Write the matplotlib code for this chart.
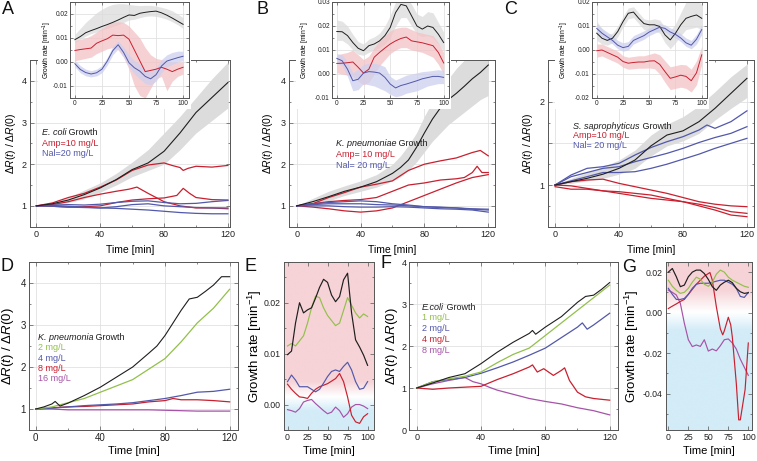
import numpy as np
import matplotlib.pyplot as plt
from matplotlib.patches import Rectangle
from matplotlib.ticker import MultipleLocator, FuncFormatter, FormatStrFormatter

plt.rcParams['font.family'] = ['Liberation Sans', 'DejaVu Sans']
plt.rcParams['mathtext.fontset'] = 'custom'
plt.rcParams['mathtext.rm'] = 'Liberation Sans'
plt.rcParams['mathtext.it'] = 'Liberation Sans:italic'
plt.rcParams['axes.unicode_minus'] = False

BLACK = '#1e1e1e'
RED = '#c8202f'
BLUE = '#5258aa'
GREEN = '#92c04a'
MAGENTA = '#a653a8'
GREY_BAND = '#dcdcdc'
RED_BAND = '#f4c2c6'
BLUE_BAND = '#cdd0ee'
SPINE = '#555555'
GRID = '#dcdcdc'

# ---------------- data ----------------
t10 = [0, 10, 20, 30, 40, 50, 60, 70, 80, 90, 100, 110, 120]
t5 = [0, 5, 10, 15, 20, 25, 30, 35, 40, 45, 50, 55, 60, 65, 70, 75, 80, 85, 90, 95, 100]

# A: E. coli
a_black = [1.00, 1.05, 1.14, 1.27, 1.43, 1.63, 1.87, 2.03, 2.31, 2.75, 3.24, 3.60, 3.96]
a_band_lo = [1.00, 1.03, 1.08, 1.17, 1.33, 1.50, 1.70, 1.85, 2.00, 2.35, 2.75, 3.05, 3.35]
a_band_hi = [1.00, 1.07, 1.20, 1.38, 1.55, 1.78, 2.05, 2.35, 2.75, 3.15, 3.60, 4.05, 4.45]
a_red1_t = [0, 10, 20, 30, 40, 50, 60, 70, 80, 85, 90, 92, 95, 100, 110, 120]
a_red1 = [1.00, 1.07, 1.20, 1.30, 1.45, 1.62, 1.85, 1.98, 2.03, 1.97, 1.92, 1.85, 1.90, 1.95, 1.93, 1.97]
a_red2_t = [0, 10, 20, 30, 40, 50, 58, 63, 70, 80, 90, 100, 110, 120]
a_red2 = [1.00, 1.03, 1.10, 1.20, 1.28, 1.35, 1.40, 1.45, 1.30, 1.10, 1.00, 0.95, 0.95, 0.93]
a_red3_t = [0, 10, 20, 30, 40, 50, 60, 70, 80, 88, 92, 96, 100, 110, 120]
a_red3 = [1.00, 0.99, 0.97, 0.98, 1.00, 1.08, 1.14, 1.17, 1.19, 1.25, 1.42, 1.30, 1.20, 1.15, 1.14]
a_blue1 = [1.00, 1.02, 1.03, 1.02, 1.04, 1.08, 1.11, 1.12, 1.08, 1.05, 1.06, 1.10, 1.13]
a_blue2 = [1.00, 1.01, 0.99, 0.97, 0.95, 0.98, 1.03, 1.05, 1.00, 0.98, 0.96, 0.95, 0.95]
a_blue3 = [1.00, 0.99, 0.97, 0.96, 0.95, 0.94, 0.92, 0.90, 0.87, 0.84, 0.82, 0.81, 0.81]

ia_black = [0.0093, 0.0106, 0.0122, 0.0131, 0.0139, 0.0148, 0.0156, 0.0165, 0.0175, 0.0186, 0.0196,
            0.0194, 0.0203, 0.0207, 0.0210, 0.0212, 0.0205, 0.0195, 0.0183, 0.0170, 0.0157]
ia_black_lo = [0.0080, 0.0095, 0.0108, 0.0118, 0.0125, 0.0133, 0.0140, 0.0148, 0.0155, 0.0165, 0.0175,
               0.0178, 0.0185, 0.0190, 0.0192, 0.0190, 0.0185, 0.0178, 0.0168, 0.0155, 0.0140]
ia_black_hi = [0.0115, 0.0140, 0.0165, 0.0185, 0.0205, 0.0220, 0.0232, 0.0240, 0.0243, 0.0243, 0.0240,
               0.0237, 0.0235, 0.0236, 0.0236, 0.0233, 0.0228, 0.0222, 0.0213, 0.0200, 0.0185]
ia_red = [0.0048, 0.0052, 0.0055, 0.0058, 0.0078, 0.0088, 0.0097, 0.0112, 0.0110, 0.0112, 0.0095,
          0.0050, 0.0005, -0.0040, -0.0035, -0.0030, -0.0022, -0.0030, -0.0040, -0.0030, -0.0022]
ia_red_lo = [0.0005, 0.0010, 0.0015, 0.0020, 0.0035, 0.0045, 0.0055, 0.0060, 0.0050, 0.0020, -0.0030,
             -0.0100, -0.0140, -0.0150, -0.0110, -0.0070, -0.0060, -0.0120, -0.0080, -0.0060, -0.0050]
ia_red_hi = [0.0090, 0.0095, 0.0100, 0.0110, 0.0125, 0.0140, 0.0155, 0.0165, 0.0168, 0.0165, 0.0150,
             0.0125, 0.0100, 0.0060, 0.0030, 0.0015, 0.0010, 0.0005, 0.0000, 0.0000, 0.0000]
ia_blue = [-0.0007, -0.0031, -0.0044, -0.0050, -0.0045, -0.0030, 0.0004, 0.0047, 0.0072, 0.0040, -0.0003,
           -0.0024, -0.0038, -0.0060, -0.0070, -0.0053, -0.0017, 0.0004, 0.0011, 0.0018, 0.0024]
ia_blue_lo = [-0.0020, -0.0045, -0.0058, -0.0062, -0.0058, -0.0045, -0.0012, 0.0030, 0.0055, 0.0020, -0.0020,
              -0.0050, -0.0070, -0.0090, -0.0095, -0.0080, -0.0045, -0.0020, -0.0010, 0.0000, 0.0005]
ia_blue_hi = [0.0008, -0.0015, -0.0030, -0.0036, -0.0030, -0.0015, 0.0020, 0.0065, 0.0088, 0.0062, 0.0030,
              0.0005, -0.0008, -0.0030, -0.0040, -0.0025, 0.0010, 0.0030, 0.0040, 0.0045, 0.0045]

# B: K. pneumoniae
b_black_t = [0, 10, 20, 30, 40, 50, 60, 65, 70, 75, 80, 85, 90, 95, 100, 105, 110, 115, 120]
b_black = [1.00, 1.10, 1.22, 1.35, 1.45, 1.58, 1.78, 1.92, 2.10, 2.40, 2.75, 3.08, 3.35, 3.55, 3.70, 3.87, 4.05, 4.20, 4.38]
b_band_lo = [1.00, 1.03, 1.12, 1.25, 1.35, 1.45, 1.60, 1.70, 1.85, 2.05, 2.30, 2.55, 2.75, 2.95, 3.10, 3.25, 3.40, 3.55, 3.65]
b_band_hi = [1.00, 1.18, 1.35, 1.48, 1.60, 1.75, 2.00, 2.20, 2.45, 2.75, 3.15, 3.50, 3.80, 4.05, 4.30, 4.50, 4.70, 4.85, 5.00]
b_red1_t = [0, 10, 20, 30, 40, 50, 60, 70, 80, 90, 100, 110, 115, 120]
b_red1 = [1.00, 1.05, 1.20, 1.32, 1.45, 1.52, 1.60, 1.85, 2.00, 2.08, 2.15, 2.28, 2.33, 2.20]
b_red2_t = [0, 10, 20, 30, 40, 50, 60, 70, 80, 90, 100, 105, 110, 113, 116, 120]
b_red2 = [1.00, 1.05, 1.10, 1.13, 1.15, 1.20, 1.35, 1.50, 1.55, 1.62, 1.65, 1.68, 1.80, 1.95, 1.80, 1.80]
b_red3 = [1.00, 0.97, 0.93, 0.88, 0.85, 0.88, 0.95, 1.10, 1.25, 1.40, 1.55, 1.68, 1.75]
b_blue1 = [1.00, 1.05, 1.08, 1.10, 1.12, 1.10, 1.05, 1.02, 0.98, 0.97, 0.95, 0.93, 0.92]
b_blue2 = [1.00, 1.03, 1.05, 1.05, 1.05, 1.03, 1.02, 1.00, 0.98, 0.96, 0.95, 0.92, 0.90]
b_blue3 = [1.00, 1.00, 1.00, 0.98, 0.97, 0.97, 0.98, 0.97, 0.95, 0.93, 0.92, 0.90, 0.85]

ib_black = [0.0177, 0.0176, 0.0160, 0.0131, 0.0107, 0.0097, 0.0118, 0.0125, 0.0138, 0.0160, 0.0194,
            0.0256, 0.0290, 0.0284, 0.0242, 0.0200, 0.0187, 0.0200, 0.0194, 0.0166, 0.0131]
ib_black_lo = [0.0140, 0.0140, 0.0125, 0.0100, 0.0082, 0.0078, 0.0090, 0.0100, 0.0110, 0.0125, 0.0150,
               0.0200, 0.0235, 0.0235, 0.0200, 0.0165, 0.0155, 0.0160, 0.0150, 0.0125, 0.0095]
ib_black_hi = [0.0225, 0.0220, 0.0200, 0.0165, 0.0135, 0.0125, 0.0145, 0.0155, 0.0170, 0.0200, 0.0245,
               0.0300, 0.0320, 0.0320, 0.0290, 0.0250, 0.0240, 0.0260, 0.0255, 0.0215, 0.0175]
ib_red = [0.0044, 0.0045, 0.0047, 0.0050, 0.0028, 0.0004, 0.0020, 0.0070, 0.0090, 0.0108, 0.0125,
          0.0138, 0.0148, 0.0154, 0.0138, 0.0134, 0.0130, 0.0124, 0.0118, 0.0090, 0.0046]
ib_red_lo = [0.0005, 0.0000, -0.0005, -0.0010, -0.0030, -0.0045, -0.0035, 0.0000, 0.0035, 0.0060, 0.0085,
             0.0100, 0.0110, 0.0110, 0.0100, 0.0095, 0.0090, 0.0080, 0.0070, 0.0040, 0.0000]
ib_red_hi = [0.0080, 0.0085, 0.0090, 0.0100, 0.0080, 0.0060, 0.0075, 0.0110, 0.0140, 0.0160, 0.0180,
             0.0190, 0.0195, 0.0195, 0.0185, 0.0175, 0.0170, 0.0165, 0.0160, 0.0130, 0.0090]
ib_blue = [0.0065, 0.0055, 0.0020, -0.0028, -0.0022, 0.0004, 0.0010, 0.0008, 0.0004, -0.0014, -0.0042,
           -0.0058, -0.0048, -0.0042, -0.0035, -0.0028, -0.0020, -0.0015, -0.0010, -0.0010, -0.0014]
ib_blue_lo = [0.0045, 0.0035, -0.0010, -0.0070, -0.0065, -0.0040, -0.0045, -0.0050, -0.0060, -0.0070, -0.0085,
              -0.0095, -0.0090, -0.0080, -0.0075, -0.0070, -0.0060, -0.0050, -0.0045, -0.0040, -0.0040]
ib_blue_hi = [0.0085, 0.0080, 0.0050, 0.0005, 0.0020, 0.0040, 0.0045, 0.0045, 0.0040, 0.0030, -0.0010,
              -0.0025, -0.0015, -0.0005, 0.0000, 0.0005, 0.0010, 0.0012, 0.0015, 0.0018, 0.0015]

# C: S. saprophyticus
c_black = [1.00, 1.04, 1.08, 1.13, 1.20, 1.30, 1.47, 1.60, 1.65, 1.76, 1.92, 2.10, 2.28]
c_band_lo = [1.00, 1.02, 1.05, 1.08, 1.13, 1.20, 1.35, 1.47, 1.53, 1.62, 1.78, 1.92, 2.05]
c_band_hi = [1.00, 1.08, 1.15, 1.22, 1.30, 1.42, 1.60, 1.73, 1.82, 1.95, 2.12, 2.30, 2.45]
c_blue1_t = [0, 10, 20, 30, 40, 50, 60, 70, 80, 90, 95, 100, 110, 120]
c_blue1 = [1.00, 1.12, 1.20, 1.22, 1.26, 1.36, 1.45, 1.52, 1.58, 1.66, 1.72, 1.68, 1.76, 1.89]
c_blue2 = [1.00, 1.10, 1.15, 1.20, 1.22, 1.28, 1.33, 1.38, 1.44, 1.51, 1.57, 1.62, 1.70]
c_blue3 = [1.00, 1.05, 1.10, 1.15, 1.15, 1.16, 1.20, 1.25, 1.31, 1.37, 1.44, 1.50, 1.56]
c_red1 = [1.00, 1.04, 1.06, 1.07, 1.02, 0.98, 0.94, 0.90, 0.85, 0.80, 0.77, 0.75, 0.74]
c_red2 = [1.00, 0.99, 0.96, 0.93, 0.90, 0.87, 0.84, 0.82, 0.80, 0.77, 0.73, 0.68, 0.66]
c_red3 = [0.98, 0.95, 0.95, 0.93, 0.92, 0.90, 0.88, 0.84, 0.80, 0.75, 0.70, 0.64, 0.62]

ic_black = [0.0070, 0.0049, 0.0040, 0.0049, 0.0077, 0.0118, 0.0153, 0.0158, 0.0132, 0.0110, 0.0105,
            0.0105, 0.0098, 0.0063, 0.0042, 0.0070, 0.0105, 0.0132, 0.0140, 0.0146, 0.0132]
ic_black_lo = [0.0040, 0.0025, 0.0020, 0.0030, 0.0055, 0.0095, 0.0130, 0.0135, 0.0110, 0.0085, 0.0080,
               0.0080, 0.0070, 0.0030, 0.0005, 0.0030, 0.0060, 0.0085, 0.0090, 0.0095, 0.0085]
ic_black_hi = [0.0120, 0.0090, 0.0065, 0.0070, 0.0100, 0.0140, 0.0175, 0.0180, 0.0155, 0.0130, 0.0125,
               0.0130, 0.0125, 0.0095, 0.0080, 0.0110, 0.0155, 0.0200, 0.0210, 0.0210, 0.0190]
ic_blue = [0.0090, 0.0070, 0.0055, 0.0040, 0.0020, 0.0010, 0.0015, 0.0040, 0.0050, 0.0060, 0.0075,
           0.0085, 0.0095, 0.0090, 0.0075, 0.0065, 0.0050, 0.0030, 0.0020, 0.0045, 0.0085]
ic_blue_lo = [0.0072, 0.0055, 0.0040, 0.0025, 0.0005, -0.0005, 0.0000, 0.0025, 0.0035, 0.0045, 0.0060,
              0.0070, 0.0080, 0.0075, 0.0060, 0.0050, 0.0035, 0.0015, 0.0005, 0.0025, 0.0065]
ic_blue_hi = [0.0110, 0.0090, 0.0075, 0.0060, 0.0040, 0.0030, 0.0035, 0.0060, 0.0070, 0.0080, 0.0092,
              0.0102, 0.0110, 0.0105, 0.0092, 0.0082, 0.0068, 0.0050, 0.0040, 0.0065, 0.0105]
ic_red = [-0.0003, 0.0000, -0.0010, -0.0020, -0.0030, -0.0048, -0.0055, -0.0052, -0.0050, -0.0050, -0.0046,
          -0.0045, -0.0060, -0.0090, -0.0118, -0.0112, -0.0105, -0.0110, -0.0128, -0.0095, -0.0020]
ic_red_lo = [-0.0030, -0.0025, -0.0035, -0.0045, -0.0055, -0.0072, -0.0080, -0.0078, -0.0076, -0.0076, -0.0075,
             -0.0078, -0.0100, -0.0135, -0.0165, -0.0160, -0.0155, -0.0160, -0.0175, -0.0145, -0.0060]
ic_red_hi = [0.0025, 0.0025, 0.0015, 0.0005, -0.0005, -0.0024, -0.0030, -0.0027, -0.0024, -0.0024, -0.0018,
             -0.0012, -0.0020, -0.0045, -0.0070, -0.0065, -0.0060, -0.0062, -0.0080, -0.0045, 0.0015]

# D: K. pneumonia dose series
d_black_t = [0, 5, 10, 12, 15, 20, 30, 40, 50, 60, 70, 75, 80, 85, 90, 95, 100, 105, 110, 115, 120]
d_black = [1.00, 1.05, 1.12, 1.18, 1.07, 1.14, 1.32, 1.52, 1.76, 2.00, 2.33, 2.50, 2.75, 3.05, 3.35,
           3.62, 3.66, 3.80, 3.95, 4.15, 4.15]
d_green = [1.00, 1.05, 1.15, 1.25, 1.40, 1.55, 1.70, 1.95, 2.20, 2.60, 3.05, 3.40, 3.85]
d_blue = [1.00, 1.02, 1.05, 1.08, 1.10, 1.12, 1.15, 1.20, 1.25, 1.32, 1.40, 1.42, 1.47]
d_red_t = [0, 10, 20, 30, 40, 50, 60, 70, 80, 85, 90, 100, 110, 120]
d_red = [1.00, 1.03, 1.05, 1.06, 1.08, 1.10, 1.12, 1.17, 1.20, 1.25, 1.22, 1.22, 1.20, 1.17]
d_mag = [1.00, 1.00, 0.98, 0.98, 0.98, 0.98, 0.98, 0.98, 0.97, 0.96, 0.95, 0.95, 0.95]

# E: growth rates for D
e_black = [0.0098, 0.0105, 0.0160, 0.0200, 0.0180, 0.0186, 0.0190, 0.0209, 0.0230, 0.0246, 0.0240,
           0.0215, 0.0202, 0.0212, 0.0245, 0.0258, 0.0180, 0.0127, 0.0113, 0.0097, 0.0077]
e_green = [0.0115, 0.0120, 0.0115, 0.0125, 0.0135, 0.0160, 0.0190, 0.0213, 0.0210, 0.0190, 0.0175,
           0.0165, 0.0155, 0.0160, 0.0185, 0.0210, 0.0195, 0.0180, 0.0170, 0.0178, 0.0173]
e_blue = [0.0045, 0.0058, 0.0048, 0.0035, 0.0035, 0.0035, 0.0030, 0.0025, 0.0030, 0.0042, 0.0055,
          0.0065, 0.0068, 0.0065, 0.0075, 0.0083, 0.0068, 0.0045, 0.0030, 0.0032, 0.0045]
e_red = [0.0040, 0.0030, 0.0022, 0.0015, 0.0014, 0.0012, 0.0022, 0.0030, 0.0035, 0.0038, 0.0041,
         0.0046, 0.0051, 0.0061, 0.0045, 0.0015, -0.0021, -0.0034, -0.0037, -0.0024, -0.0018]
e_mag = [-0.0010, -0.0012, -0.0015, -0.0008, 0.0005, 0.0008, 0.0010, 0.0002, -0.0005, -0.0012, -0.0018,
         -0.0015, -0.0005, -0.0012, -0.0025, -0.0018, -0.0005, 0.0000, 0.0000, -0.0003, -0.0008]

# F: E. coli dose series
f_black_t = [0, 10, 20, 30, 40, 50, 60, 70, 72, 74, 80, 90, 100, 105, 110, 115, 120]
f_black = [1.00, 1.12, 1.25, 1.34, 1.58, 1.85, 2.09, 2.30, 2.37, 2.28, 2.45, 2.70, 3.04, 3.18, 3.21, 3.35, 3.51]
f_green = [1.00, 1.15, 1.22, 1.28, 1.38, 1.60, 1.80, 1.95, 2.25, 2.55, 2.85, 3.15, 3.45]
f_blue_t = [0, 10, 20, 30, 40, 50, 60, 70, 80, 90, 100, 103, 106, 110, 120]
f_blue = [1.00, 1.15, 1.20, 1.25, 1.35, 1.48, 1.62, 1.78, 1.95, 2.20, 2.45, 2.55, 2.40, 2.50, 2.78]
f_red_t = [0, 10, 20, 30, 40, 50, 60, 70, 72, 75, 79, 85, 90, 92, 95, 100, 105, 110, 120]
f_red = [1.00, 0.97, 1.00, 1.02, 1.04, 1.20, 1.34, 1.50, 1.55, 1.38, 1.46, 1.30, 1.42, 1.48, 1.18, 0.90, 0.79, 0.75, 0.71]
f_mag_t = [0, 10, 20, 30, 35, 40, 45, 50, 60, 70, 80, 90, 100, 110, 120]
f_mag = [1.00, 1.10, 1.18, 1.25, 1.15, 1.10, 1.02, 0.95, 0.85, 0.75, 0.68, 0.62, 0.53, 0.46, 0.36]

# G: growth rates for F
g_black = [0.0200, 0.0218, 0.0177, 0.0128, 0.0136, 0.0177, 0.0200, 0.0210, 0.0210, 0.0193, 0.0164,
           0.0128, 0.0110, 0.0136, 0.0150, 0.0160, 0.0148, 0.0120, 0.0103, 0.0095, 0.0098]
g_green = [0.0160, 0.0130, 0.0110, 0.0095, 0.0100, 0.0120, 0.0150, 0.0175, 0.0165, 0.0140, 0.0130,
           0.0150, 0.0190, 0.0210, 0.0200, 0.0175, 0.0160, 0.0150, 0.0140, 0.0130, 0.0125]
g_blue = [0.0120, 0.0090, 0.0065, 0.0065, 0.0070, 0.0090, 0.0120, 0.0140, 0.0145, 0.0145, 0.0145,
          0.0150, 0.0155, 0.0160, 0.0160, 0.0150, 0.0140, 0.0120, 0.0080, 0.0075, 0.0100]
g_red_t = [0, 5, 10, 15, 20, 25, 30, 35, 40, 45, 50, 52, 55, 60, 65, 68, 70, 75, 78, 80, 85, 88, 90, 96, 100]
g_red = [0.0020, 0.0032, 0.0043, 0.0055, 0.0065, 0.0090, 0.0115, 0.0140, 0.0160, 0.0180, 0.0193, 0.0198,
         0.0160, 0.0030, -0.0080, -0.0110, -0.0090, -0.0023, -0.0060, -0.0120, -0.0350, -0.0530, -0.0530,
         -0.0380, -0.0150]
g_mag = [0.0111, 0.0100, 0.0087, 0.0046, -0.0052, -0.0134, -0.0168, -0.0160, -0.0167, -0.0134, -0.0190,
         -0.0180, -0.0189, -0.0164, -0.0134, -0.0130, -0.0150, -0.0180, -0.0230, -0.0270, -0.0310]

# ---------------- layout helpers ----------------
W, H = 757, 461


def box(x0, y0, x1, y1):
    return [x0 / W, 1 - y1 / H, (x1 - x0) / W, (y1 - y0) / H]


def style(ax, xmaj, ymaj, xmin=None, ymin=None, fs=6.5, grid=True, tl=3):
    ax.xaxis.set_major_locator(MultipleLocator(xmaj))
    ax.yaxis.set_major_locator(MultipleLocator(ymaj))
    if xmin:
        ax.xaxis.set_minor_locator(MultipleLocator(xmin))
    if ymin:
        ax.yaxis.set_minor_locator(MultipleLocator(ymin))
    ax.tick_params(which='both', direction='in', top=True, right=True, color=SPINE,
                   labelcolor='#222222', labelsize=fs, width=0.5, pad=2.5)
    ax.tick_params(which='major', length=tl)
    ax.tick_params(which='minor', length=tl * 0.55)
    for s in ax.spines.values():
        s.set_color(SPINE)
        s.set_linewidth(0.7)
    if grid:
        ax.grid(True, which='major', color=GRID, lw=0.5)
    ax.set_axisbelow(True)


def labels(ax, x0, x1, y0, y1, xlab_y, ylab_x, ylab, fs_x, fs_y):
    ax.set_xlabel('Time [min]', fontsize=fs_x, va='center')
    ax.xaxis.set_label_coords(0.5, (y1 - xlab_y) / (y1 - y0))
    ax.set_ylabel(ylab, fontsize=fs_y, va='center')
    ax.yaxis.set_label_coords((ylab_x - x0) / (x1 - x0), 0.5)


def legend_text(ax, x, y, step, italic, rest, entries, fs):
    ty = 1 - y / H
    t1 = ax.text(x / W, ty, italic, transform=fig.transFigure, fontsize=fs, style='italic',
                 color=BLACK, va='center', ha='left', zorder=6)
    ax.annotate(rest, xy=(1, 0), xycoords=t1, fontsize=fs, color=BLACK, va='bottom', ha='left', zorder=6)
    for i, (txt, col) in enumerate(entries):
        ax.text(x / W, 1 - (y + step * (i + 1)) / H, txt, transform=fig.transFigure, fontsize=fs,
                color=col, va='center', ha='left', zorder=6)


def letter(x, y, s):
    fig.text(x / W, 1 - y / H, s, fontsize=13, va='top', ha='left', color='#111111')


def gradient(ax, xlim, ylim, ys, cols):
    yy = np.linspace(ylim[0], ylim[1], 500)
    cols = np.array(cols, dtype=float) / 255.0
    img = np.stack([np.interp(yy, ys, cols[:, k]) for k in range(3)], axis=-1)[:, None, :]
    ax.imshow(img, extent=[xlim[0], xlim[1], ylim[0], ylim[1]], origin='lower', aspect='auto',
              interpolation='bilinear', zorder=0)


YLAB = r'$\Delta R(t)\ /\ \Delta R(0)$'
GRLAB = r'Growth rate [min$^{-1}$]'
PINK = (246, 211, 215)
SKY = (211, 236, 247)
WHITE = (255, 255, 255)

fig = plt.figure(figsize=(7.57, 4.61), dpi=100)

# ---------------- top row main panels ----------------
top = [
    (30, 229.5, (-4, 121), (0.5, 4.5), 11,
     (t10, a_black, a_band_lo, a_band_hi),
     [(a_red1_t, a_red1), (a_red2_t, a_red2), (a_red3_t, a_red3)],
     [(t10, a_blue1), (t10, a_blue2), (t10, a_blue3)]),
    (289.3, 495, (-4.6, 124.2), (0.5, 4.5), 268,
     (b_black_t, b_black, b_band_lo, b_band_hi),
     [(b_red1_t, b_red1), (b_red2_t, b_red2), (t10, b_red3)],
     [(t10, b_blue1), (t10, b_blue2), (t10, b_blue3)]),
    (548, 754.3, (-4.4, 124.6), (0.5, 2.5), 528,
     (t10, c_black, c_band_lo, c_band_hi),
     [(t10, c_red1), (t10, c_red2), (t10, c_red3)],
     [(c_blue1_t, c_blue1), (t10, c_blue2), (t10, c_blue3)]),
]
mains = []
for i, (x0, x1, xl, yl, ylx, blk, reds, blues) in enumerate(top):
    ax = fig.add_axes(box(x0, 60, x1, 226.7))
    ax.set_zorder(1)
    ax.fill_between(blk[0], blk[2], blk[3], color=GREY_BAND, lw=0, zorder=2)
    for t, v in reds:
        ax.plot(t, v, color=RED, lw=0.9, zorder=3)
    for t, v in blues:
        ax.plot(t, v, color=BLUE, lw=0.9, zorder=3)
    ax.plot(blk[0], blk[1], color=BLACK, lw=0.8, zorder=4)
    ax.set_xlim(xl)
    ax.set_ylim(yl)
    if i == 2:
        style(ax, 40, 0.5, 20, 0.25)
        ax.yaxis.set_major_formatter(FuncFormatter(lambda v, p: '%d' % round(v) if abs(v - round(v)) < 1e-6 else ''))
    else:
        style(ax, 40, 1, 20, 0.5)
    labels(ax, x0, x1, 60, 226.7, 250, ylx, YLAB, 7.5, 7.5)
    mains.append(ax)

legend_text(mains[0], 42, 132.7, 10.3, 'E. coli', ' Growth',
            [('Amp=10 mg/L', RED), ('Nal=20 mg/L', BLUE)], 6.5)
legend_text(mains[1], 336, 144, 10.5, 'K. pneumoniae', ' Growth',
            [('Amp= 10 mg/L', RED), ('Nal= 20 mg/L', BLUE)], 6.5)
legend_text(mains[2], 573, 126, 10.0, 'S. saprophyticus', ' Growth',
            [('Amp=10 mg/L', RED), ('Nal= 20 mg/L', BLUE)], 6.5)

# ---------------- insets ----------------
insets = [
    (70, 188.5, (-0.015, 0.025), 47,
     (ia_black, ia_black_lo, ia_black_hi), (ia_red, ia_red_lo, ia_red_hi), (ia_blue, ia_blue_lo, ia_blue_hi)),
    (332, 449, (-0.01, 0.03), 305,
     (ib_black, ib_black_lo, ib_black_hi), (ib_red, ib_red_lo, ib_red_hi), (ib_blue, ib_blue_lo, ib_blue_hi)),
    (592, 707, (-0.02, 0.02), 564,
     (ic_black, ic_black_lo, ic_black_hi), (ic_red, ic_red_lo, ic_red_hi), (ic_blue, ic_blue_lo, ic_blue_hi)),
]
inset_axes = []
for x0, x1, yl, ylx, blk, red, blue in insets:
    ax = fig.add_axes(box(x0, 2, x1, 98))
    ax.set_zorder(3)
    for (v, lo, hi), band, col in [(blk, GREY_BAND, BLACK), (red, RED_BAND, RED), (blue, BLUE_BAND, BLUE)]:
        ax.fill_between(t5, lo, hi, color=band, alpha=0.75, lw=0, zorder=2)
    for (v, lo, hi), col in [(blk, BLACK), (red, RED), (blue, BLUE)]:
        ax.plot(t5, v, color=col, lw=0.7, zorder=3)
    ax.set_xlim(-4.5, 105)
    ax.set_ylim(yl)
    style(ax, 25, 0.01, None, 0.005, fs=4.7, tl=2)
    ax.yaxis.set_major_formatter(FormatStrFormatter('%.2f'))
    ax.tick_params(pad=1.5)
    ax.set_ylabel(GRLAB, fontsize=4.8, va='center')
    ax.yaxis.set_label_coords((ylx - x0) / (x1 - x0), 0.5)
    inset_axes.append(ax)

# ---------------- bottom row ----------------
axD = fig.add_axes(box(29.3, 262, 237.7, 430))
axD.plot(t10, d_mag, color=MAGENTA, lw=0.9)
axD.plot(d_red_t, d_red, color=RED, lw=0.9)
axD.plot(t10, d_blue, color=BLUE, lw=0.9)
axD.plot(t10, d_green, color=GREEN, lw=0.9)
axD.plot(d_black_t, d_black, color=BLACK, lw=0.8)
axD.set_xlim(-4, 125)
axD.set_ylim(0.5, 4.5)
style(axD, 40, 1, 20, 0.5, fs=7)
labels(axD, 29.3, 237.7, 262, 430, 451, 8, YLAB, 8, 9.5)
legend_text(axD, 37.5, 337.7, 10.2, 'K. pneumonia', ' Growth',
            [('2 mg/L', GREEN), ('4 mg/L', BLUE), ('8 mg/L', RED), ('16 mg/L', MAGENTA)], 6.5)

axE = fig.add_axes(box(284.3, 262, 374, 430))
E_XL, E_YL = (-4, 108), (-0.005, 0.028)
gradient(axE, E_XL, E_YL, [-0.005, -0.0012, 0.0015, 0.0045, 0.028], [SKY, SKY, WHITE, PINK, PINK])
for v, col in [(e_mag, MAGENTA), (e_red, RED), (e_blue, BLUE), (e_green, GREEN), (e_black, BLACK)]:
    axE.plot(t5, v, color=col, lw=0.85, zorder=3)
axE.set_xlim(E_XL)
axE.set_ylim(E_YL)
style(axE, 25, 0.01, None, 0.005, fs=6.3, grid=False)
axE.yaxis.set_major_formatter(FormatStrFormatter('%.2f'))
labels(axE, 284.3, 374, 262, 430, 451, 255, GRLAB, 8, 9.5)

axF = fig.add_axes(box(409.3, 262, 617.7, 430))
axF.plot(f_mag_t, f_mag, color=MAGENTA, lw=0.9)
axF.plot(f_red_t, f_red, color=RED, lw=0.9)
axF.plot(f_blue_t, f_blue, color=BLUE, lw=0.9)
axF.plot(t10, f_green, color=GREEN, lw=0.9)
axF.plot(f_black_t, f_black, color=BLACK, lw=0.8)
axF.set_xlim(-4.6, 125)
axF.set_ylim(0, 4)
style(axF, 40, 1, 20, 0.5, fs=6.5)
axF.tick_params(axis='y', pad=2)
labels(axF, 409.3, 617.7, 262, 430, 451, 392, YLAB, 8, 9.5)
legend_text(axF, 421.7, 307.3, 10.7, 'E.coli', ' Growth',
            [('1 mg/L', GREEN), ('2 mg/L', BLUE), ('4 mg/L', RED), ('8 mg/L', MAGENTA)], 6.5)

axG = fig.add_axes(box(665.7, 262, 752.3, 430))
G_XL, G_YL = (-3.3, 105), (-0.058, 0.025)
gradient(axG, G_XL, G_YL, [-0.058, -0.009, 0.0, 0.011, 0.025], [SKY, SKY, WHITE, PINK, PINK])
for t, v, col in [(t5, g_mag, MAGENTA), (g_red_t, g_red, RED), (t5, g_blue, BLUE),
                  (t5, g_green, GREEN), (t5, g_black, BLACK)]:
    axG.plot(t, v, color=col, lw=0.85, zorder=3)
axG.set_xlim(G_XL)
axG.set_ylim(G_YL)
style(axG, 25, 0.02, None, 0.01, fs=6.3, grid=False)
axG.yaxis.set_major_formatter(FormatStrFormatter('%.2f'))
labels(axG, 665.7, 752.3, 262, 430, 451, 632, GRLAB, 8, 9.5)

# panel letters
letter(2, 1, 'A')
letter(256, 1, 'B')
letter(504, 1, 'C')
letter(0, 258, 'D')
letter(245, 258, 'E')
letter(381, 255, 'F')
letter(622, 259, 'G')

# white backing behind the insets (covers main axes under inset labels)
fig.canvas.draw()
rend = fig.canvas.get_renderer()
for ax in inset_axes:
    bb = ax.get_tightbbox(rend).transformed(fig.transFigure.inverted())
    px, py = 2.0 / W, 2.0 / H
    fig.add_artist(Rectangle((bb.x0 - px, bb.y0 - py), bb.width + 2 * px, bb.height + 2 * py,
                             transform=fig.transFigure, facecolor='white', edgecolor='none', zorder=2))

fig.savefig('out.png', dpi=100)
